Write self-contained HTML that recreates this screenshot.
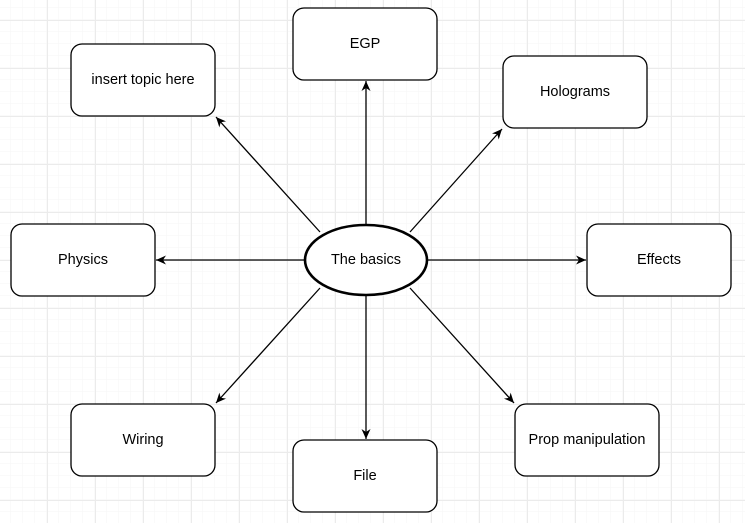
<!DOCTYPE html>
<html><head><style>
html,body{margin:0;padding:0;background:#fff;}
svg{display:block}
text{font-family:"Liberation Sans",sans-serif;font-size:14.5px;fill:#000;}
</style></head><body>
<svg width="745" height="523" xmlns="http://www.w3.org/2000/svg">
<defs>
<pattern id="mi" width="12" height="12" patternUnits="userSpaceOnUse" x="-1" y="8">
<path d="M12 0V12M0 12H12" stroke="#f5f5f5" stroke-width="1" fill="none"/>
</pattern>
<pattern id="ma" width="48" height="48" patternUnits="userSpaceOnUse" x="-1" y="20">
<path d="M0.5 0V48M0 0.5H48" stroke="#ebebeb" stroke-width="1" fill="none"/>
</pattern>
<marker id="a" markerWidth="12" markerHeight="12" refX="10" refY="6" orient="auto" markerUnits="userSpaceOnUse">
<path d="M0,1.5 L10,6 L0,10.5 L3,6 Z" fill="#000"/>
</marker>
</defs>
<rect width="745" height="523" fill="url(#mi)"/>
<rect width="745" height="523" fill="url(#ma)"/>
<g stroke="#000" stroke-width="1.3" fill="none" marker-end="url(#a)">
<line x1="366" y1="224" x2="366" y2="81"/>
<line x1="320" y1="232" x2="216" y2="117"/>
<line x1="410" y1="232" x2="502" y2="129"/>
<line x1="305" y1="260" x2="156" y2="260"/>
<line x1="427" y1="260" x2="586" y2="260"/>
<line x1="320" y1="288" x2="216" y2="403"/>
<line x1="366" y1="296" x2="366" y2="439"/>
<line x1="410" y1="288" x2="514" y2="403"/>
</g>
<g fill="#fff" stroke="#000" stroke-width="1.3">
<rect x="71" y="44" width="144" height="72" rx="11"/>
<rect x="293" y="8" width="144" height="72" rx="11"/>
<rect x="503" y="56" width="144" height="72" rx="11"/>
<rect x="11" y="224" width="144" height="72" rx="11"/>
<rect x="587" y="224" width="144" height="72" rx="11"/>
<rect x="71" y="404" width="144" height="72" rx="11"/>
<rect x="293" y="440" width="144" height="72" rx="11"/>
<rect x="515" y="404" width="144" height="72" rx="11"/>
<ellipse cx="366" cy="260" rx="61" ry="35" stroke-width="2.6"/>
</g>
<g text-anchor="middle" dominant-baseline="central">
<text x="143" y="80">insert topic here</text>
<text x="365" y="44">EGP</text>
<text x="575" y="92">Holograms</text>
<text x="83" y="260">Physics</text>
<text x="659" y="260">Effects</text>
<text x="143" y="440">Wiring</text>
<text x="365" y="476">File</text>
<text x="587" y="440">Prop manipulation</text>
<text x="366" y="260">The basics</text>
</g>
</svg>
</body></html>
